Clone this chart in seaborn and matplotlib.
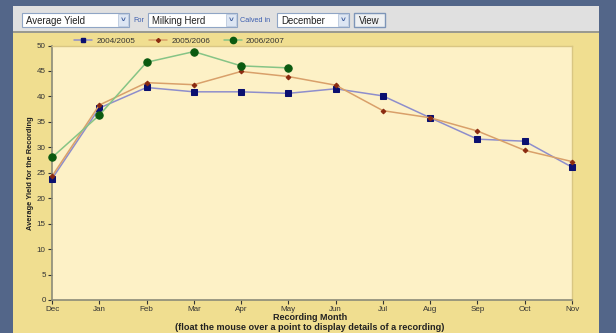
import matplotlib
matplotlib.use("Agg")
import matplotlib.pyplot as plt
from matplotlib.patches import Rectangle
from matplotlib.lines import Line2D
import seaborn as sns
import pandas as pd

# Monthly average yield per recording, by calving season
months = ["Dec", "Jan", "Feb", "Mar", "Apr", "May", "Jun", "Jul", "Aug", "Sep", "Oct", "Nov"]
yield_2004_2005 = [23.8, 37.7, 41.75, 40.9, 40.9, 40.6, 41.5, 40.1, 35.8, 31.6, 31.2, 26.1]
yield_2005_2006 = [24.3, 38.3, 42.7, 42.3, 44.9, 43.9, 42.2, 37.2, 35.8, 33.2, 29.4, 27.2]
yield_2006_2007 = [28.0, 36.3, 46.7, 48.8, 46.0, 45.6]
seasons = ["2004/2005", "2005/2006", "2006/2007"]
y_ticks = list(range(0, 51, 5))

W, H = 616, 333
sns.set_theme(style="white")
plt.rcParams["font.family"] = ["Liberation Sans", "DejaVu Sans"]

fig = plt.figure(figsize=(W / 100, H / 100), dpi=100)
fig.patch.set_facecolor("#536689")


def px_rect(x0, y0, x1, y1, zorder=-5, **kw):
    """Rectangle given in pixel coordinates (origin top-left)."""
    r = Rectangle((x0 / W, 1 - y1 / H), (x1 - x0) / W, (y1 - y0) / H,
                  transform=fig.transFigure, zorder=zorder, **kw)
    fig.patches.append(r)
    return r


def px_text(x, y, s, **kw):
    fig.text(x / W, 1 - y / H, s, **kw)


# toolbar strip and chart panel
px_rect(13, 6, 599, 32, facecolor="#e0e0e0", edgecolor="none", zorder=-10)
px_rect(13, 31, 599, 32.5, facecolor="#9a9a90", edgecolor="none", zorder=-9)
px_rect(13, 32.5, 599, 333, facecolor="#f0de90", edgecolor="none", zorder=-10)

# selection controls
def dropdown(x0, x1, label):
    px_rect(x0, 13, x1, 27, facecolor="white", edgecolor="#8fa5c5", linewidth=0.8)
    px_rect(x1 - 11, 14, x1 - 1, 26, facecolor="#dde6f3", edgecolor="#b0c0d8", linewidth=0.5,
            zorder=-4)
    px_text(x1 - 6, 20.5, "\u02c5", ha="center", va="center", fontsize=6, color="#3a5a9a",
            fontweight="bold")
    px_text(x0 + 4, 20.5, label, ha="left", va="center", fontsize=6.9, color="#222222")


dropdown(22, 129, "Average Yield")
px_text(133, 21, "For", ha="left", va="center", fontsize=5.2, color="#3d5fb0")
dropdown(148, 237, "Milking Herd")
px_text(240, 21, "Calved in", ha="left", va="center", fontsize=5.2, color="#3d5fb0")
dropdown(277, 349, "December")
px_rect(354, 13, 385, 27, facecolor="#eef0f2", edgecolor="#7d95b8", linewidth=1.0)
px_text(369.5, 20.5, "View", ha="center", va="center", fontsize=6.9, color="#222222")

# plotting area
ax = fig.add_axes([52 / W, 1 - 300 / H, 520 / W, (300 - 45.5) / H])
ax.set_facecolor("#fdf1c6")

rows = []
for season, vals in zip(seasons, [yield_2004_2005, yield_2005_2006, yield_2006_2007]):
    for i, v in enumerate(vals):
        rows.append({"season": season, "month_idx": i, "yield": v})
df = pd.DataFrame(rows)

styles = {
    "2004/2005": dict(color="#8e8ecc", marker="s", mfc="#0b1070", mec="#0b1070", ms=3.7, lw=1.1),
    "2005/2006": dict(color="#d9a06a", marker="D", mfc="#8a2a10", mec="#8a2a10", ms=2.4, lw=1.1),
    "2006/2007": dict(color="#86c486", marker="o", mfc="#0b5a10", mec="#0b5a10", ms=5.3, lw=1.1),
}
for season in seasons:
    st = styles[season]
    sns.lineplot(data=df[df["season"] == season], x="month_idx", y="yield", ax=ax,
                 color=st["color"], linewidth=st["lw"], marker=st["marker"],
                 markerfacecolor=st["mfc"], markeredgecolor=st["mec"],
                 markersize=st["ms"], zorder=3, clip_on=False, legend=False)

ax.set_xlim(0, len(months) - 1)
ax.set_ylim(0, 50)
ax.set_xticks(range(len(months)))
ax.set_xticklabels(months)
ax.set_yticks(y_ticks)
ax.tick_params(axis="both", labelsize=5.8, colors="#333333", length=3, width=0.8,
               direction="out", pad=1.5, bottom=True, left=True)
for side in ("left", "bottom"):
    ax.spines[side].set_color("#8c8c78")
    ax.spines[side].set_linewidth(1.2)
for side in ("top", "right"):
    ax.spines[side].set_color("#d9c683")
    ax.spines[side].set_linewidth(1.0)

ax.set_xlabel("")
ax.set_ylabel("Average Yield for the Recording", fontsize=5.4, fontweight="bold",
              color="#222222", labelpad=2)
px_text(310, 318, "Recording Month", ha="center", va="center", fontsize=6.5,
        fontweight="bold", color="#222222")
px_text(310, 327, "(float the mouse over a point to display details of a recording)",
        ha="center", va="center", fontsize=6.6, fontweight="bold", color="#222222")

handles = []
for season in seasons:
    st = styles[season]
    handles.append(Line2D([], [], color=st["color"], lw=st["lw"], marker=st["marker"],
                          markerfacecolor=st["mfc"], markeredgecolor=st["mec"],
                          markersize=st["ms"] * 0.85))
leg = fig.legend(handles, seasons, loc="center left", bbox_to_anchor=(70 / W, 1 - 41.5 / H),
                 ncol=3, frameon=False, fontsize=5.9, handlelength=2.2, handletextpad=0.5,
                 columnspacing=1.7, borderpad=0)
for t in leg.get_texts():
    t.set_color("#333333")

fig.savefig("out.png", dpi=100, facecolor=fig.get_facecolor())
